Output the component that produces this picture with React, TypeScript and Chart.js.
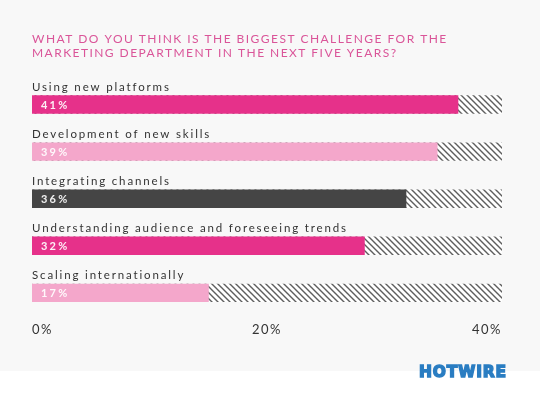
import React, { useEffect, useRef } from "react";
import { Chart, registerables } from "chart.js";

Chart.register(...registerables);

const titleLines = [
  "WHAT DO YOU THINK IS THE BIGGEST CHALLENGE FOR THE",
  "MARKETING DEPARTMENT IN THE NEXT FIVE YEARS?",
];
const categories = [
  "Using new platforms",
  "Development of new skills",
  "Integrating channels",
  "Understanding audience and foreseeing trends",
  "Scaling internationally",
];
const values = [41, 39, 36, 32, 17];
const barColors = ["#e6318a", "#f4a7cb", "#454545", "#e6318a", "#f4a7cb"];
const trackMax = 45.2;
const axisTickValues = [0, 20, 40];
const brand = "HOTWIRE";

function makeHatch(): CanvasPattern | string {
  const s = 6;
  const c = document.createElement("canvas");
  c.width = s;
  c.height = s;
  const g = c.getContext("2d");
  if (!g) return "#ddd";
  g.fillStyle = "#ffffff";
  g.fillRect(0, 0, s, s);
  g.strokeStyle = "#5e5e5e";
  g.lineWidth = 1.4;
  g.beginPath();
  g.moveTo(-1, -1);
  g.lineTo(s + 1, s + 1);
  g.moveTo(-1, s - 1);
  g.lineTo(1, s + 1);
  g.moveTo(s - 1, -1);
  g.lineTo(s + 1, 1);
  g.stroke();
  const p = g.createPattern(c, "repeat");
  return p || "#ddd";
}

const decorPlugin = {
  id: "decor",
  beforeDraw(chart: any) {
    const ctx = chart.ctx as CanvasRenderingContext2D;
    const { width, height } = chart;
    ctx.save();
    ctx.fillStyle = "#f8f8f8";
    ctx.fillRect(0, 0, width, height);
    ctx.fillStyle = "#ffffff";
    ctx.fillRect(0, 371, width, height - 371);
    // title
    ctx.fillStyle = "#da5599";
    ctx.font = "12px Lato";
    (ctx as any).letterSpacing = "1.45px";
    ctx.textBaseline = "middle";
    ctx.textAlign = "left";
    titleLines.forEach((t, i) => ctx.fillText(t, chart.chartArea.left, 39.5 + i * 14));
    // logo
    ctx.fillStyle = "#2a7dc2";
    ctx.strokeStyle = "#2a7dc2";
    ctx.lineWidth = 1.6;
    ctx.lineJoin = "miter";
    (ctx as any).letterSpacing = "1px";
    ctx.font = "bold 18px 'DejaVu Sans'";
    ctx.translate(419, 373);
    ctx.scale(0.86, 0.9);
    ctx.fillText(brand, 0, 0);
    ctx.strokeText(brand, 0, 0);
    ctx.restore();
    (ctx as any).letterSpacing = "1.5px";
  },
  afterDatasetsDraw(chart: any) {
    const ctx = chart.ctx as CanvasRenderingContext2D;
    const meta = chart.getDatasetMeta(1);
    ctx.save();
    ctx.textAlign = "left";
    ctx.textBaseline = "middle";
    meta.data.forEach((bar: any, i: number) => {
      const top = bar.y - bar.height / 2;
      ctx.fillStyle = "#333333";
      ctx.font = "11.5px Lato";
      (ctx as any).letterSpacing = "1.85px";
      ctx.fillText(categories[i], chart.chartArea.left, top - 8);
      ctx.fillStyle = "rgba(255,255,255,0.92)";
      ctx.font = "bold 11px Lato";
      (ctx as any).letterSpacing = "2.2px";
      ctx.fillText(values[i] + "%", chart.chartArea.left + 9, bar.y + 0.5);
    });
    ctx.restore();
    (ctx as any).letterSpacing = "1.5px";
  },
};

export default function App() {
  const ref = useRef<HTMLCanvasElement>(null);
  useEffect(() => {
    if (!ref.current) return;
    const hatch = makeHatch();
    const chart = new Chart(ref.current, {
      type: "bar",
      data: {
        labels: categories,
        datasets: [
          {
            label: "track",
            data: categories.map(() => trackMax),
            backgroundColor: hatch as any,
            order: 2,
          },
          {
            label: "value",
            data: values,
            backgroundColor: barColors,
            order: 1,
          },
        ],
      },
      options: {
        indexAxis: "y",
        responsive: false,
        animation: false,
        events: [],
        layout: { padding: { left: 32, right: 38, top: 81, bottom: 51 } },
        datasets: {
          bar: { grouped: false, barPercentage: 0.39, categoryPercentage: 1, borderWidth: 0 },
        },
        plugins: { legend: { display: false }, tooltip: { enabled: false }, title: { display: false } },
        scales: {
          x: { min: 0, max: trackMax, display: false },
          x2: {
            type: "linear",
            position: "bottom",
            min: 0,
            max: 40,
            afterBuildTicks: (s: any) => {
              s.ticks = axisTickValues.map((v) => ({ value: v }));
            },
            ticks: {
              align: "inner",
              padding: 6,
              color: "#333333",
              font: { family: "Lato", size: 13 },
              callback: (v: any) => v + "%",
            },
            grid: { display: false, drawTicks: false },
            border: { display: false },
          },
          y: { display: false },
        },
      },
      plugins: [decorPlugin],
    } as any);
    return () => chart.destroy();
  }, []);
  return (
    <div style={{ position: "absolute", left: 0, top: 0, width: 540, height: 395 }}>
      <canvas ref={ref} width={540} height={395} style={{ display: "block" }} />
    </div>
  );
}
